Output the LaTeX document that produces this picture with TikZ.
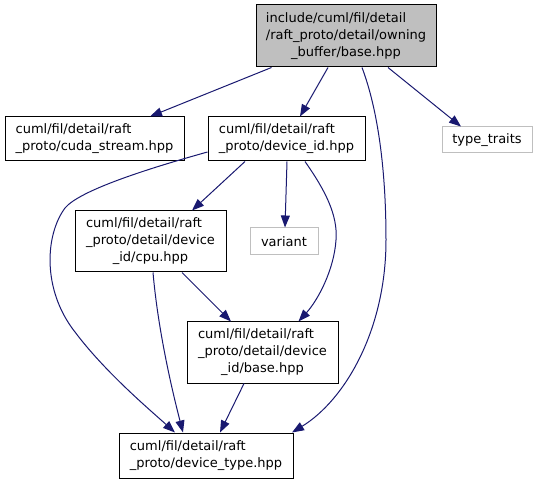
\documentclass[tikz,border=0pt]{standalone}
\usepackage{fontspec}
\setmainfont{DejaVu Sans}
\usetikzlibrary{arrows.meta,calc}
\definecolor{edgeblue}{RGB}{25,25,112}
\definecolor{topgray}{RGB}{191,191,191}
\definecolor{lightborder}{RGB}{191,191,191}
\newcommand\dlab[2]{\begin{tabular}{@{}l@{}}#1\\\multicolumn{1}{@{}c@{}}{#2}\end{tabular}}
\begin{document}
\begin{tikzpicture}[x=1pt,y=-1pt,
  box/.style={draw=black,line width=1pt,rectangle,inner sep=0pt,font=\fontsize{13}{17}\selectfont},
  gbox/.style={draw=lightborder,line width=1pt,rectangle,inner sep=0pt,font=\fontsize{13}{17}\selectfont},
  edge/.style={draw=edgeblue,line width=1pt,-{Triangle[length=12pt,width=9pt]},color=edgeblue}]
\useasboundingbox (0,0) rectangle (539,484);
\node[box,fill=topgray,minimum width=180pt,minimum height=62pt] (top) at (346,36)
  {\dlab{include/cuml/fil/detail\\/raft\_proto/detail/owning}{\_buffer/base.hpp}};
\node[box,minimum width=179pt,minimum height=44pt] (cuda) at (94.5,139)
  {\dlab{cuml/fil/detail/raft}{\_proto/cuda\_stream.hpp}};
\node[box,minimum width=157pt,minimum height=44pt] (devid) at (286.5,139)
  {\dlab{cuml/fil/detail/raft}{\_proto/device\_id.hpp}};
\node[gbox,minimum width=90pt,minimum height=26pt] (tt) at (487,140) {type\_traits};
\node[box,minimum width=151pt,minimum height=61pt] (cpu) at (150.5,241.5)
  {\dlab{cuml/fil/detail/raft\\\_proto/detail/device}{\_id/cpu.hpp}};
\node[gbox,minimum width=68pt,minimum height=27pt] (variant) at (284,241.5) {variant};
\node[box,minimum width=151pt,minimum height=61pt] (base) at (262.5,352.5)
  {\dlab{cuml/fil/detail/raft\\\_proto/detail/device}{\_id/base.hpp}};
\node[box,minimum width=174pt,minimum height=45pt] (dtype) at (206,455.5)
  {\dlab{cuml/fil/detail/raft}{\_proto/device\_type.hpp}};
% edges
\draw[edge] ($(top.south)+(-74.5,0)$) -- ($(cuda.north)+(55.5,0)$);
\draw[edge] ($(top.south)+(-18,0)$) -- ($(devid.north)+(13.5,0)$);
\draw[edge] ($(top.south)+(42,0)$) -- ($(tt.north)+(-26,0)$);
\draw[edge] ($(top.south)+(16,0)$) .. controls (378,110) and (386,170) .. (386,240)
  .. controls (386,330) and (345,400) .. ($(dtype.north)+(86,0)$);
\draw[edge] ($(devid.south)+(-41.5,0)$) -- ($(cpu.north)+(41.5,0)$);
\draw[edge] ($(devid.south)+(0.5,0)$) -- ($(variant.north)+(1,0)$);
\draw[edge] ($(devid.south)+(18.5,0)$) .. controls (325,190) and (338,215) .. (336,240)
  .. controls (334,270) and (318,300) .. ($(base.north)+(36,0)$);
\draw[edge] ($(devid.west)+(0,13)$) .. controls (150,168) and (80,190) .. (65,208)
  .. controls (45,235) and (42,290) .. (75,332)
  .. controls (105,372) and (150,410) .. ($(dtype.north)+(-31,0)$);
\draw[edge] ($(cpu.south)+(31.5,0)$) -- ($(base.north)+(-31.5,0)$);
\draw[edge] ($(cpu.south)+(2.5,0)$) .. controls (158,330) and (172,390) .. ($(dtype.north)+(-23,0)$);
\draw[edge] ($(base.south)+(-18.5,0)$) -- ($(dtype.north)+(14,0)$);
\end{tikzpicture}
\end{document}
